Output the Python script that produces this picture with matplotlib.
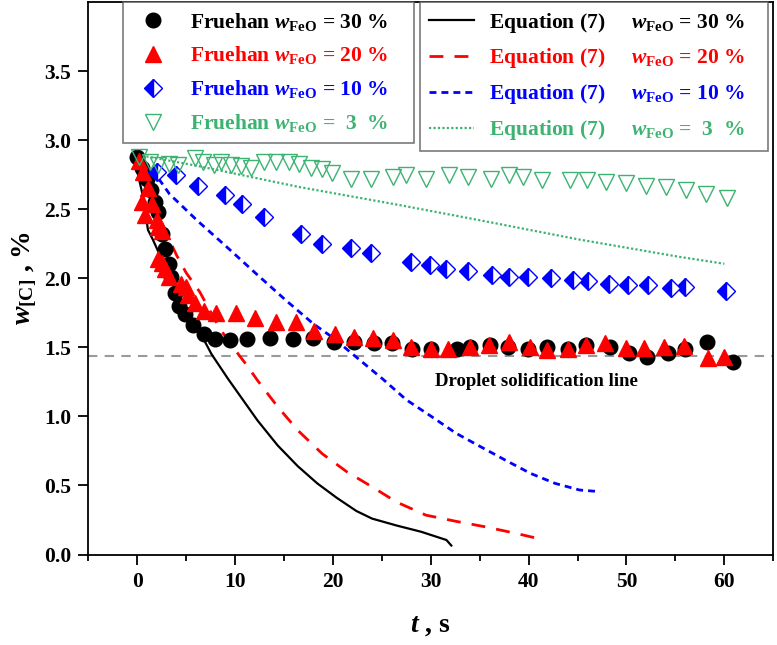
import matplotlib
matplotlib.use('Agg')
import matplotlib.pyplot as plt
from matplotlib.ticker import MultipleLocator

plt.rcParams['font.family'] = ['Liberation Serif', 'DejaVu Serif']
plt.rcParams['font.weight'] = 'bold'
plt.rcParams['axes.labelweight'] = 'bold'
plt.rcParams['mathtext.fontset'] = 'custom'
plt.rcParams['mathtext.rm'] = 'Liberation Serif:bold'
plt.rcParams['mathtext.it'] = 'Liberation Serif:italic:bold'
plt.rcParams['mathtext.bf'] = 'Liberation Serif:bold'

GREEN = '#3cb371'

# ---- Fruehan experimental data ----
t_fr30 = [0, 0.5, 1.0, 1.4, 1.8, 2.15, 2.5, 2.85, 3.2, 3.5, 3.9, 4.3, 4.9, 5.7, 6.8, 7.9, 9.5,
          11.2, 13.6, 15.9, 18.0, 20.1, 22.2, 24.2, 26.0, 28.1, 30.0, 32.7, 34.0, 36.1, 37.9,
          39.9, 41.9, 44.0, 45.9, 48.3, 50.3, 52.1, 54.2, 56.0, 58.2, 60.9]
w_fr30 = [2.88, 2.80, 2.72, 2.64, 2.55, 2.48, 2.32, 2.21, 2.10, 2.01, 1.89, 1.80, 1.74, 1.66,
          1.60, 1.56, 1.55, 1.557, 1.565, 1.557, 1.57, 1.54, 1.54, 1.53, 1.53, 1.49, 1.485,
          1.49, 1.505, 1.515, 1.505, 1.49, 1.50, 1.49, 1.52, 1.50, 1.46, 1.43, 1.46, 1.49,
          1.535, 1.395]

t_fr20 = [0.2, 0.55, 0.45, 0.8, 1.1, 1.5, 2.0, 2.1, 2.5, 2.15, 2.5, 2.8, 3.2, 4.5, 5.0, 5.2,
          5.9, 6.8, 8.1, 10.1, 12.0, 14.2, 16.2, 18.1, 20.2, 22.2, 24.1, 26.1, 28.0, 30.0,
          31.8, 34.0, 36.0, 38.0, 40.1, 41.9, 44.0, 45.9, 47.8, 50.0, 51.8, 53.8, 55.9,
          58.3, 60.0]
w_fr20 = [2.85, 2.77, 2.55, 2.46, 2.65, 2.54, 2.42, 2.37, 2.34, 2.14, 2.11, 2.07, 2.01, 1.96,
          1.94, 1.88, 1.82, 1.76, 1.745, 1.745, 1.71, 1.685, 1.685, 1.62, 1.60, 1.577, 1.57,
          1.553, 1.50, 1.49, 1.49, 1.505, 1.516, 1.54, 1.50, 1.48, 1.49, 1.516, 1.53, 1.495,
          1.495, 1.50, 1.51, 1.42, 1.43]

t_fr10 = [2.0, 4.0, 6.2, 8.95, 10.7, 13.0, 16.75, 18.9, 21.8, 23.9, 28.0, 29.95, 31.55, 33.8,
          36.25, 38.0, 39.9, 42.3, 44.55, 46.05, 48.2, 50.2, 52.15, 54.5, 56.0, 60.15]
w_fr10 = [2.77, 2.75, 2.67, 2.60, 2.54, 2.44, 2.32, 2.25, 2.22, 2.18, 2.12, 2.095, 2.065,
          2.05, 2.02, 2.01, 2.01, 2.00, 1.99, 1.98, 1.96, 1.95, 1.95, 1.93, 1.94, 1.905]

t_fr3 = [0.2, 1.3, 2.1, 3.2, 4.2, 5.9, 6.7, 7.8, 8.6, 9.6, 10.6, 11.6, 13.0, 14.2, 15.5, 16.5,
         17.8, 18.9, 19.9, 21.8, 23.9, 26.1, 27.5, 29.5, 31.9, 33.8, 36.2, 38.0, 39.4, 41.4,
         44.2, 46.0, 47.9, 49.9, 52.0, 54.0, 56.1, 58.1, 60.3]
w_fr3 = [2.88, 2.84, 2.82, 2.83, 2.82, 2.87, 2.84, 2.82, 2.84, 2.82, 2.81, 2.80, 2.84, 2.84,
         2.84, 2.83, 2.80, 2.79, 2.76, 2.72, 2.72, 2.73, 2.745, 2.72, 2.745, 2.73, 2.72,
         2.745, 2.73, 2.71, 2.71, 2.71, 2.70, 2.69, 2.67, 2.66, 2.64, 2.61, 2.58]

# ---- Equation (7) curves ----
t_eq30 = [-0.4, 0.6, 1.1, 1.6, 3.0, 4.4, 6.1, 7.6, 9.3, 10.5, 12.3, 14.35, 16.4, 18.4, 20.4,
          22.4, 24.0, 26.5, 29.0, 31.6, 32.1]
w_eq30 = [2.9, 2.59, 2.35, 2.28, 2.06, 1.865, 1.65, 1.45, 1.27, 1.15, 0.97, 0.79, 0.64,
          0.515, 0.41, 0.315, 0.26, 0.21, 0.165, 0.105, 0.065]

t_eq20 = [-0.4, 2.5, 4.0, 5.0, 6.4, 8.4, 9.8, 11.2, 12.3, 14.35, 16.4, 18.9, 21.4, 24.0,
          26.5, 29.5, 32.6, 35.6, 38.7, 40.9]
w_eq20 = [2.9, 2.40, 2.17, 2.04, 1.90, 1.64, 1.50, 1.37, 1.26, 1.07, 0.90, 0.73, 0.60, 0.49,
          0.38, 0.285, 0.24, 0.20, 0.153, 0.117]

t_eq10 = [-0.4, 1.6, 3.3, 6.1, 9.1, 12.2, 15.2, 18.0, 20.0, 22.2, 25.1, 27.5, 30.05, 32.6,
          35.1, 37.6, 40.2, 42.7, 45.2, 47.3]
w_eq10 = [2.9, 2.78, 2.61, 2.42, 2.23, 2.03, 1.84, 1.67, 1.57, 1.44, 1.27, 1.12, 1.00, 0.877,
          0.78, 0.684, 0.587, 0.515, 0.467, 0.455]

t_eq3 = [-0.4, 6.4, 16.6, 26.8, 35.0, 45.2, 55.4, 60.0]
w_eq3 = [2.9, 2.81, 2.66, 2.53, 2.42, 2.28, 2.155, 2.105]

solid_line = 1.44
x_ticks = [0, 10, 20, 30, 40, 50, 60]
y_ticks = [0.0, 0.5, 1.0, 1.5, 2.0, 2.5, 3.0, 3.5]

fig = plt.figure(figsize=(7.77, 6.45), dpi=100)
ax = fig.add_axes([0.1136, 0.1403, 0.8816, 0.8566])

ax.axhline(solid_line, color='#9a9a9a', lw=1.5, ls=(0, (4.5, 3.5)), zorder=1)

l30, = ax.plot(t_eq30, w_eq30, color='k', lw=1.6, zorder=2)
l20, = ax.plot(t_eq20, w_eq20, color='red', lw=2.0, ls=(0, (5, 4)), zorder=2)
l10, = ax.plot(t_eq10, w_eq10, color='blue', lw=2.0, ls=(0, (2.5, 1.8)), zorder=2)
l3, = ax.plot(t_eq3, w_eq3, color=GREEN, lw=1.6, ls=(0, (1, 1)), zorder=2)

m30, = ax.plot(t_fr30, w_fr30, 'o', ms=10.5, color='k', ls='none', zorder=3)
m20, = ax.plot(t_fr20, w_fr20, '^', ms=11, color='red', ls='none', zorder=4)
m10, = ax.plot(t_fr10, w_fr10, 'D', ms=9, color='blue', mfc='blue', mfcalt='white',
               fillstyle='left', mec='blue', mew=1.0, ls='none', zorder=4)
m3, = ax.plot(t_fr3, w_fr3, 'v', ms=11, mfc='none', mec=GREEN, mew=1.0, ls='none', zorder=4)

ax.text(30.4, 1.255, 'Droplet solidification line', fontsize=13.5, fontweight='bold',
        va='center', ha='left')

ax.set_xlim(-5, 65)
ax.set_ylim(0, 4.0)
ax.set_xticks(x_ticks)
ax.set_yticks(y_ticks)
ax.set_yticklabels([f'{v:.1f}' for v in y_ticks])
ax.xaxis.set_minor_locator(MultipleLocator(5))
ax.tick_params(axis='both', which='major', direction='out', length=7.5, width=1.3,
               labelsize=15.5, pad=5)
ax.tick_params(axis='x', which='minor', direction='out', length=4, width=1.3)
ax.tick_params(top=False, right=False)
for s in ax.spines.values():
    s.set_linewidth(1.3)

ax.set_xlabel(r'$t$ , s', fontsize=20, fontweight='bold')
ax.set_ylabel(r'$w_{\rm [C]}$ , %', fontsize=20, fontweight='bold')
ax.xaxis.set_label_coords(0.5, -0.105)
ax.yaxis.set_label_coords(-0.07, 0.5)

colors = ['k', 'red', 'blue', GREEN]
labs1 = [r'Fruehan $w_{\rm FeO}$ = 30 %', r'Fruehan $w_{\rm FeO}$ = 20 %',
         r'Fruehan $w_{\rm FeO}$ = 10 %', r'Fruehan $w_{\rm FeO}$ =  3  %']
labs2 = [r'Equation (7)     $w_{\rm FeO}$ = 30 %', r'Equation (7)     $w_{\rm FeO}$ = 20 %',
         r'Equation (7)     $w_{\rm FeO}$ = 10 %', r'Equation (7)     $w_{\rm FeO}$ =  3  %']

leg1 = ax.legend([m30, m20, m10, m3], labs1, loc='upper left',
                 bbox_to_anchor=(0.0507, 0.0, 0.4248, 1.0), mode='expand',
                 borderaxespad=0, fontsize=15.5, frameon=True, fancybox=False,
                 borderpad=0.4, handlelength=2.0, handletextpad=0.7, labelspacing=0.55)
leg1.get_frame().set_edgecolor('0.35')
leg1.get_frame().set_linewidth(1.2)
for tx, c in zip(leg1.get_texts(), colors):
    tx.set_color(c)
ax.add_artist(leg1)

leg2 = ax.legend([l30, l20, l10, l3], labs2, loc='upper left',
                 bbox_to_anchor=(0.4842, 0.0, 0.5081, 1.0), mode='expand',
                 borderaxespad=0, fontsize=15.5, frameon=True, fancybox=False,
                 borderpad=0.4, handlelength=2.1, handletextpad=0.7, labelspacing=0.55)
leg2.get_frame().set_edgecolor('0.35')
leg2.get_frame().set_linewidth(1.2)
for tx, c in zip(leg2.get_texts(), colors):
    tx.set_color(c)

fig.savefig('out.png', dpi=100)
